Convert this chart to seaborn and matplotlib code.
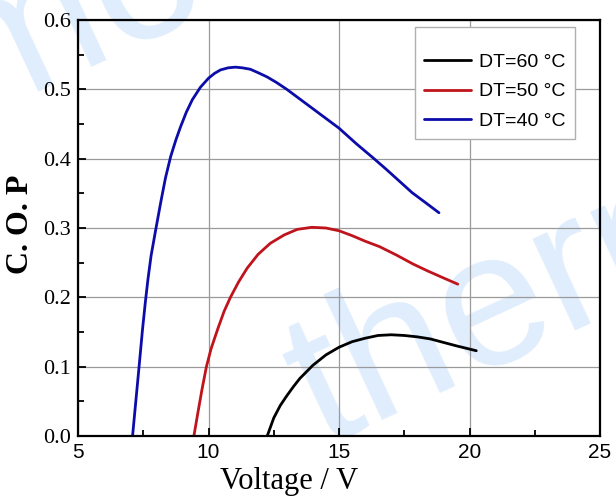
import matplotlib
matplotlib.use("Agg")
import matplotlib.pyplot as plt
import seaborn as sns
import pandas as pd
from matplotlib.ticker import MultipleLocator

# ---- data ----
x_dt60 = [12.25, 12.5, 12.75, 13.0, 13.25, 13.5, 14.0, 14.5, 15.0, 15.5, 16.0,
          16.5, 17.0, 17.5, 18.0, 18.5, 19.0, 19.5, 20.26]
y_dt60 = [0.0, 0.026, 0.044, 0.058, 0.071, 0.083, 0.102, 0.117, 0.128, 0.136,
          0.141, 0.145, 0.146, 0.145, 0.143, 0.140, 0.135, 0.130, 0.123]

x_dt50 = [9.44, 9.6, 9.75, 9.92, 10.1, 10.36, 10.6, 10.84, 11.15, 11.48, 11.9,
          12.37, 12.9, 13.4, 13.96, 14.5, 15.0, 15.5, 16.0, 16.56, 17.2, 17.84,
          18.4, 19.0, 19.55]
y_dt50 = [0.0, 0.035, 0.067, 0.100, 0.126, 0.155, 0.180, 0.200, 0.222, 0.242,
          0.262, 0.278, 0.290, 0.298, 0.301, 0.300, 0.296, 0.289, 0.281, 0.273,
          0.261, 0.248, 0.238, 0.228, 0.219]

x_dt40 = [7.09, 7.22, 7.34, 7.47, 7.58, 7.68, 7.80, 7.98, 8.17, 8.35, 8.55, 8.75,
          8.93, 9.15, 9.38, 9.69, 10.0, 10.23, 10.46, 10.75, 11.03, 11.3, 11.6,
          11.9, 12.24, 12.6, 13.0, 13.5, 14.0, 14.5, 15.0, 15.65, 16.31, 16.8,
          17.33, 17.8, 18.3, 18.83]
y_dt40 = [0.0, 0.052, 0.100, 0.153, 0.193, 0.226, 0.260, 0.298, 0.337, 0.372,
          0.403, 0.427, 0.446, 0.467, 0.485, 0.503, 0.516, 0.523, 0.528, 0.531,
          0.532, 0.531, 0.529, 0.524, 0.518, 0.510, 0.500, 0.486, 0.472, 0.458,
          0.444, 0.422, 0.401, 0.385, 0.367, 0.351, 0.337, 0.322]

series_labels = ["DT=60 °C", "DT=50 °C", "DT=40 °C"]
series_colors = ["#000000", "#c0141c", "#0c0caa"]
x_ticks = [5, 10, 15, 20, 25]
y_ticks = [0.0, 0.1, 0.2, 0.3, 0.4, 0.5, 0.6]

frames = []
for lab, xs, ys in zip(series_labels, [x_dt60, x_dt50, x_dt40],
                       [y_dt60, y_dt50, y_dt40]):
    frames.append(pd.DataFrame({"Voltage": xs, "COP": ys, "series": lab}))
df = pd.concat(frames, ignore_index=True)

sns.set_theme(style="white")
plt.rcParams["font.family"] = ["Liberation Serif", "DejaVu Serif"]
for k in ["text.color", "axes.labelcolor", "xtick.color", "ytick.color"]:
    plt.rcParams[k] = "black"

fig = plt.figure(figsize=(6.16, 4.97), dpi=100, facecolor="white")
ax = fig.add_axes([78 / 616, 61 / 497, 522 / 616, 416 / 497])
ax.patch.set_alpha(0)

# watermark (behind the axes)
wm_col = "#dfedfc"
fig.text(322 / 616, 1 - 447 / 497, "thermo", fontsize=138, color=wm_col,
         rotation=25, rotation_mode="anchor", ha="left", va="baseline",
         family=["Liberation Sans"], zorder=-5)
fig.text(215 / 616, 1 - 8 / 497, "thermo", fontsize=138, color=wm_col,
         rotation=25, rotation_mode="anchor", ha="right", va="baseline",
         family=["Liberation Sans"], zorder=-5)

for lab, col in zip(series_labels, series_colors):
    sub = df[df["series"] == lab]
    sns.lineplot(data=sub, x="Voltage", y="COP", sort=False, estimator=None,
                 color=col, linewidth=2.0, ax=ax, label=lab)

ax.set_xlim(5, 25)
ax.set_ylim(0, 0.6)
ax.set_xticks(x_ticks)
ax.set_yticks(y_ticks)
ax.set_xticklabels([str(t) for t in x_ticks], family=["Liberation Sans"], fontsize=15)
ax.set_yticklabels([f"{t:.1f}" for t in y_ticks], family=["Liberation Serif"], fontsize=16)
ax.xaxis.set_minor_locator(MultipleLocator(2.5))
ax.yaxis.set_minor_locator(MultipleLocator(0.05))
ax.tick_params(which="both", direction="in", bottom=True, left=True, top=False,
               right=False, color="black", width=1.3)
ax.tick_params(which="major", length=6, pad=5)
ax.tick_params(which="minor", length=4)
ax.grid(True, which="major", color="#9a9a9a", linewidth=0.9)
for s in ax.spines.values():
    s.set_color("black")
    s.set_linewidth(1.6)

ax.set_xlabel("Voltage / V", fontsize=22, family=["Liberation Serif"])
ax.set_ylabel("C. O. P", fontsize=23, family=["Liberation Serif"], fontweight="bold")
ax.xaxis.set_label_coords(0.404, -0.074)
ax.yaxis.set_label_coords(-0.083, 0.51)

leg = ax.legend(loc="upper right", bbox_to_anchor=(0.952, 0.983),
                prop={"family": "Liberation Sans", "size": 14},
                title=" ", title_fontsize=5,
                frameon=True, fancybox=False, edgecolor="#b0b0b0",
                handlelength=2.4, handletextpad=0.4, borderpad=0.5,
                labelspacing=0.6, borderaxespad=0)
leg.get_frame().set_linewidth(1.0)
leg.get_frame().set_alpha(1)

fig.savefig("out.png", dpi=100, facecolor="white")
